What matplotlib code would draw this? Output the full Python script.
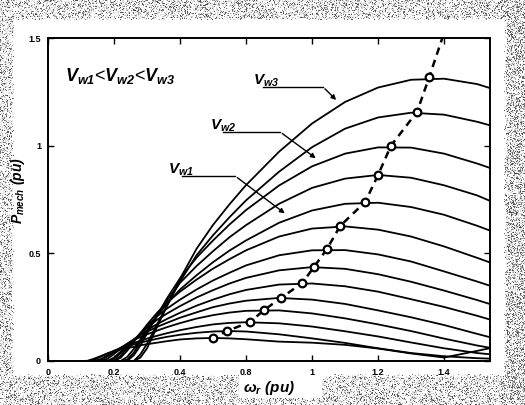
import numpy as np
import matplotlib
matplotlib.use("Agg")
import matplotlib.pyplot as plt

# rotor speed grid (pu) shared by every power curve
omega = [0.10, 0.12, 0.14, 0.16, 0.18, 0.20, 0.22, 0.24, 0.26, 0.28, 0.30, 0.33, 0.36,
         0.40, 0.45, 0.50, 0.55, 0.60, 0.70, 0.80, 0.90, 1.00, 1.10, 1.20, 1.30, 1.34]

# mechanical power (pu), one row per wind speed, highest wind first
p_curves = [
    [0.000, 0.000, 0.000, 0.000, 0.000, 0.000, 0.000, 0.000, 0.000, 0.016, 0.059, 0.157, 0.254,
     0.382, 0.521, 0.632, 0.728, 0.817, 0.972, 1.103, 1.203, 1.270, 1.306, 1.311, 1.286, 1.267],
    [0.000, 0.000, 0.000, 0.000, 0.000, 0.000, 0.000, 0.000, 0.000, 0.031, 0.080, 0.169, 0.256,
     0.369, 0.491, 0.584, 0.668, 0.746, 0.879, 0.993, 1.079, 1.131, 1.153, 1.144, 1.111, 1.094],
    [0.000, 0.000, 0.000, 0.000, 0.000, 0.000, 0.000, 0.000, 0.027, 0.072, 0.128, 0.209, 0.290,
     0.384, 0.480, 0.560, 0.634, 0.701, 0.815, 0.904, 0.963, 0.992, 0.991, 0.963, 0.917, 0.896],
    [0.000, 0.000, 0.000, 0.000, 0.000, 0.000, 0.000, 0.006, 0.039, 0.089, 0.138, 0.211, 0.280,
     0.363, 0.441, 0.510, 0.575, 0.631, 0.730, 0.804, 0.847, 0.864, 0.851, 0.816, 0.769, 0.743],
    [0.000, 0.000, 0.000, 0.000, 0.000, 0.000, 0.000, 0.019, 0.056, 0.100, 0.143, 0.208, 0.265,
     0.332, 0.398, 0.459, 0.513, 0.560, 0.642, 0.699, 0.730, 0.735, 0.715, 0.679, 0.628, 0.605],
    [0.000, 0.000, 0.000, 0.000, 0.000, 0.000, 0.015, 0.048, 0.089, 0.129, 0.169, 0.223, 0.271,
     0.322, 0.378, 0.429, 0.473, 0.514, 0.578, 0.615, 0.625, 0.610, 0.578, 0.532, 0.479, 0.457],
    [0.000, 0.000, 0.000, 0.000, 0.000, 0.001, 0.024, 0.059, 0.094, 0.129, 0.162, 0.207, 0.243,
     0.285, 0.332, 0.374, 0.410, 0.444, 0.491, 0.514, 0.515, 0.495, 0.462, 0.416, 0.369, 0.349],
    [0.000, 0.000, 0.000, 0.000, 0.000, 0.010, 0.036, 0.067, 0.098, 0.128, 0.154, 0.191, 0.220,
     0.255, 0.295, 0.329, 0.360, 0.386, 0.421, 0.436, 0.428, 0.403, 0.368, 0.327, 0.283, 0.264],
    [0.000, 0.000, 0.000, 0.000, 0.000, 0.016, 0.043, 0.070, 0.096, 0.120, 0.143, 0.171, 0.195,
     0.224, 0.257, 0.285, 0.310, 0.330, 0.355, 0.360, 0.347, 0.322, 0.287, 0.251, 0.210, 0.192],
    [0.000, 0.000, 0.000, 0.000, 0.010, 0.033, 0.056, 0.080, 0.101, 0.121, 0.136, 0.158, 0.177,
     0.201, 0.226, 0.250, 0.267, 0.280, 0.293, 0.285, 0.265, 0.235, 0.203, 0.167, 0.126, 0.110],
    [0.000, 0.000, 0.000, 0.004, 0.021, 0.041, 0.062, 0.080, 0.098, 0.111, 0.124, 0.141, 0.157,
     0.176, 0.197, 0.213, 0.225, 0.233, 0.235, 0.221, 0.198, 0.170, 0.139, 0.104, 0.072, 0.061],
    [0.000, 0.000, 0.000, 0.009, 0.026, 0.043, 0.058, 0.073, 0.084, 0.094, 0.104, 0.117, 0.129,
     0.143, 0.158, 0.170, 0.177, 0.180, 0.175, 0.160, 0.138, 0.114, 0.086, 0.059, 0.037, 0.031],
    [0.000, 0.000, 0.006, 0.020, 0.035, 0.048, 0.060, 0.069, 0.077, 0.085, 0.093, 0.103, 0.112,
     0.122, 0.131, 0.137, 0.139, 0.137, 0.124, 0.105, 0.084, 0.059, 0.037, 0.022, 0.013, 0.011],
    [0.000, 0.001, 0.011, 0.023, 0.035, 0.045, 0.053, 0.060, 0.066, 0.073, 0.078, 0.085, 0.092,
     0.100, 0.105, 0.107, 0.105, 0.101, 0.090, 0.085, 0.075, 0.058, 0.035, 0.016, 0.047, 0.060],
]

# maximum power points of each curve
omega_opt = [1.155, 1.118, 1.039, 1.0, 0.961, 0.885, 0.845, 0.806, 0.770, 0.706, 0.655, 0.612, 0.542, 0.500]
p_opt = [1.319, 1.157, 1.0, 0.864, 0.739, 0.627, 0.520, 0.437, 0.362, 0.293, 0.237, 0.181, 0.139, 0.107]

xtick_pos = [0, 0.2, 0.4, 0.6, 0.8, 1.0, 1.2]
xtick_labels = ["0", "0.2", "0.4", "0.8", "1", "1.2", "1.4"]
ytick_pos = [0, 0.5, 1, 1.5]
ytick_labels = ["0", "0.5", "1", "1.5"]

plt.rcParams["mathtext.fontset"] = "custom"
plt.rcParams["mathtext.it"] = "Liberation Sans:italic:bold"
plt.rcParams["mathtext.rm"] = "Liberation Sans:italic:bold"
plt.rcParams["mathtext.bf"] = "Liberation Sans:italic:bold"
plt.rcParams["font.family"] = "Liberation Sans"

W, H = 525, 405
fig = plt.figure(figsize=(W / 100, H / 100), dpi=100)

# speckled scanner border round the page
rng = np.random.default_rng(7)
img = np.ones((H, W))
yy, xx = np.mgrid[0:H, 0:W]
edge = (yy < 17 + 3 * rng.random((H, W))) | (xx < 11 + 3 * rng.random((H, W))) | \
       (xx > 503 + 4 * rng.random((H, W))) | (yy > 373 + 4 * rng.random((H, W)))
gap = (yy > 366) & (yy < 398) & (xx > 238) & (xx < 322)
dens = np.where(xx > 500, 0.32, 0.22)
dots = (rng.random((H, W)) < dens) & edge & ~gap
img[dots] = rng.uniform(0.25, 0.7, dots.sum())
light = (rng.random((H, W)) < 0.3) & edge & ~gap & ~dots
img[light] = 0.85
bg = fig.add_axes([0, 0, 1, 1])
bg.imshow(img, cmap="gray", vmin=0, vmax=1, aspect="auto", interpolation="nearest")
bg.axis("off")

ax = fig.add_axes([48 / W, 1 - 361 / H, 442 / W, 323 / H])
for p in p_curves:
    ax.plot(omega, p, color="black", lw=1.3, solid_joinstyle="round")
# optimum power track, carried on past the last point to the top
ax.plot([1.21] + omega_opt, [1.57] + p_opt, ls=(0, (3, 2.2)), color="black", lw=1.8)
ax.plot(omega_opt, p_opt, "o", ms=5.5, mfc="white", mec="black", mew=1.6)

ax.set_xlim(0, 1.339)
ax.set_ylim(0, 1.5)
ax.set_xticks(xtick_pos)
ax.set_xticklabels(xtick_labels)
ax.set_yticks(ytick_pos)
ax.set_yticklabels(ytick_labels)
ax.tick_params(direction="in", top=True, right=True, length=4, width=1,
               labelsize=6.5, pad=5)
for lab in ax.get_xticklabels() + ax.get_yticklabels():
    lab.set_fontweight("bold")
for s in ax.spines.values():
    s.set_linewidth(1.4)

fig.text(269 / W, 1 - 388 / H, r"$\omega_r\ (pu)$", fontsize=11, ha="center", va="center")
fig.text(18 / W, 1 - 191 / H, r"$P_{mech}\ (pu)$", fontsize=10, ha="center", va="center", rotation=90)
ax.text(0.05, 1.30, r"$V_{w1}$<$V_{w2}$<$V_{w3}$", fontsize=13)

# leaders pointing at individual curves
leaders = [(r"$V_{w3}$", (0.621, 1.285), (0.652, 1.273), (0.833, 1.273), (0.879, 1.203)),
           (r"$V_{w2}$", (0.491, 1.076), (0.530, 1.064), (0.703, 1.064), (0.818, 0.934)),
           (r"$V_{w1}$", (0.364, 0.870), (0.406, 0.859), (0.567, 0.859), (0.724, 0.678))]
for txt, tpos, a, b, tip in leaders:
    ax.text(tpos[0], tpos[1], txt, fontsize=11)
    ax.plot([a[0], b[0]], [a[1], b[1]], color="black", lw=1)
    ax.annotate("", xy=tip, xytext=b,
                arrowprops=dict(arrowstyle="-|>", color="black", lw=1, mutation_scale=7))

fig.savefig("out.png", dpi=100)
